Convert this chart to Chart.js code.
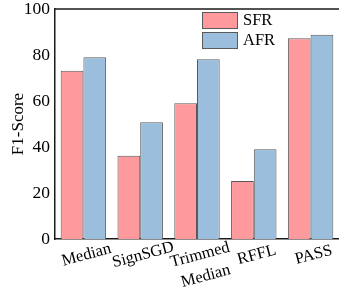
<!DOCTYPE html>
<html>
<head>
<meta charset="utf-8">
<script src="https://cdn.jsdelivr.net/npm/chart.js@4/dist/chart.umd.min.js"></script>
<style>
  html, body { margin: 0; padding: 0; background: #fff; overflow: hidden; }
  #wrap { width: 339px; height: 294px; position: relative; }
</style>
</head>
<body>
<div id="wrap"><canvas id="chart" width="339" height="294"></canvas></div>
<script>
// ===== data =====
const categories = [['Median'], ['SignSGD'], ['Trimmed', 'Median'], ['RFFL'], ['PASS']];
const sfrValues = [73.2, 36.2, 59, 25.2, 87.3];
const afrValues = [79, 50.8, 78.2, 39, 88.8];
const yTicks = [0, 20, 40, 60, 80, 100];

const SERIF = '"Liberation Serif", "Times New Roman", serif';
const AXIS_COLOR = '#1a1a1a';

// top frame line + rotated, centred x labels + legend inside the plot
const framePlugin = {
  id: 'frame',
  afterDraw(chart) {
    const { ctx, chartArea, scales } = chart;
    ctx.save();
    ctx.strokeStyle = AXIS_COLOR;
    ctx.lineWidth = 1.5;
    ctx.beginPath();
    ctx.moveTo(chartArea.left, chartArea.top);
    ctx.lineTo(chartArea.right + 5, chartArea.top);
    ctx.stroke();

    // x labels
    ctx.fillStyle = '#000';
    ctx.font = '16.5px ' + SERIF;
    ctx.textAlign = 'center';
    ctx.textBaseline = 'middle';
    categories.forEach((lines, i) => {
      const cx = scales.x.getPixelForValue(i);
      ctx.save();
      ctx.translate(cx + 3, 255);
      ctx.rotate(-15 * Math.PI / 180);
      lines.forEach((t, j) => ctx.fillText(t, 0, j * 22));
      ctx.restore();
    });

    // legend
    const lx = 202, ly = 12;
    ctx.font = '16.5px ' + SERIF;
    ctx.textAlign = 'left';
    chart.data.datasets.forEach((ds, i) => {
      const y = ly + i * 20;
      ctx.fillStyle = ds.backgroundColor;
      ctx.fillRect(lx, y, 36, 17);
      ctx.strokeStyle = ds.borderColor;
      ctx.lineWidth = 1;
      ctx.strokeRect(lx + 0.5, y + 0.5, 35, 16);
      ctx.fillStyle = '#000';
      ctx.fillText(ds.label, lx + 41, y + 9);
    });
    ctx.restore();
  }
};

new Chart(document.getElementById('chart'), {
  type: 'bar',
  data: {
    labels: categories.map(c => c.join(' ')),
    datasets: [
      {
        label: 'SFR',
        data: sfrValues,
        backgroundColor: '#fe9a9d',
        borderColor: '#5a5a5a',
        borderWidth: 1,
      },
      {
        label: 'AFR',
        data: afrValues,
        backgroundColor: '#9bbedc',
        borderColor: '#5a5a5a',
        borderWidth: 1,
      },
    ],
  },
  options: {
    responsive: false,
    animation: false,
    events: [],
    layout: { padding: { top: 9, right: -2, left: 0, bottom: 0 } },
    datasets: { bar: { categoryPercentage: 0.8, barPercentage: 1.0 } },
    plugins: {
      legend: { display: false },
      tooltip: { enabled: false },
    },
    scales: {
      x: {
        grid: { display: false, drawTicks: false },
        border: { display: true, color: AXIS_COLOR, width: 1.5 },
        ticks: { display: false },
        afterFit(scale) {
          scale.height = 55;
          scale.paddingLeft = 0;
          scale.paddingRight = 0;
        },
      },
      y: {
        min: 0,
        max: 100,
        afterBuildTicks(scale) { scale.ticks = yTicks.map(v => ({ value: v })); },
        grid: { display: false, drawTicks: false },
        border: { display: true, color: AXIS_COLOR, width: 1.5 },
        ticks: {
          color: '#000',
          padding: 5,
          font: { family: SERIF, size: 17.5 },
        },
        title: {
          display: true,
          text: 'F1-Score',
          color: '#000',
          padding: { top: 8, bottom: 0 },
          font: { family: SERIF, size: 17 },
        },
        afterFit(scale) {
          scale.width = 55;
          scale.paddingTop = 0;
          scale.paddingBottom = 0;
        },
      },
    },
  },
  plugins: [framePlugin],
});
</script>
</body>
</html>
